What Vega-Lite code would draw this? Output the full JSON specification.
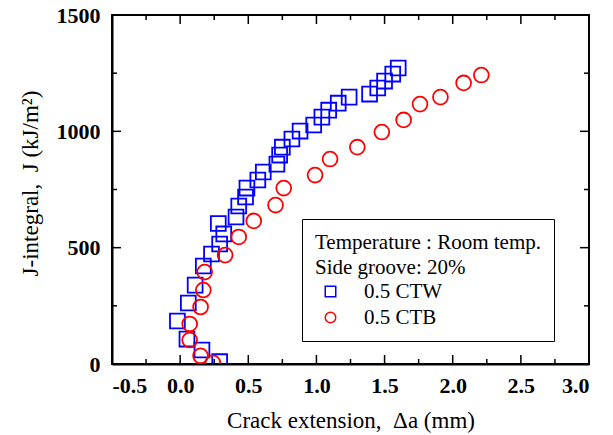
{
  "$schema": "https://vega.github.io/schema/vega-lite/v6.json",
  "width": 477,
  "height": 349,
  "autosize": {"type": "none"},
  "padding": {"left": 112, "top": 15, "right": 24, "bottom": 71},
  "config": {
    "font": "Liberation Serif",
    "view": {"stroke": "black", "strokeWidth": 2},
    "axis": {"domainColor": "black", "domainWidth": 2, "grid": false}
  },
  "datasets": {
    "pts": [
      {"specimen": "0.5 CTW", "da": 0.29, "J": 10},
      {"specimen": "0.5 CTW", "da": 0.16, "J": 60},
      {"specimen": "0.5 CTW", "da": 0.05, "J": 107},
      {"specimen": "0.5 CTW", "da": -0.02, "J": 185},
      {"specimen": "0.5 CTW", "da": 0.06, "J": 262},
      {"specimen": "0.5 CTW", "da": 0.11, "J": 339},
      {"specimen": "0.5 CTW", "da": 0.17, "J": 421},
      {"specimen": "0.5 CTW", "da": 0.23, "J": 473},
      {"specimen": "0.5 CTW", "da": 0.29, "J": 516},
      {"specimen": "0.5 CTW", "da": 0.32, "J": 559},
      {"specimen": "0.5 CTW", "da": 0.28, "J": 604},
      {"specimen": "0.5 CTW", "da": 0.41, "J": 632},
      {"specimen": "0.5 CTW", "da": 0.43, "J": 679},
      {"specimen": "0.5 CTW", "da": 0.48, "J": 718},
      {"specimen": "0.5 CTW", "da": 0.49, "J": 756},
      {"specimen": "0.5 CTW", "da": 0.57, "J": 791},
      {"specimen": "0.5 CTW", "da": 0.61, "J": 825},
      {"specimen": "0.5 CTW", "da": 0.71, "J": 859},
      {"specimen": "0.5 CTW", "da": 0.73, "J": 898},
      {"specimen": "0.5 CTW", "da": 0.75, "J": 932},
      {"specimen": "0.5 CTW", "da": 0.82, "J": 967},
      {"specimen": "0.5 CTW", "da": 0.88, "J": 1001},
      {"specimen": "0.5 CTW", "da": 0.98, "J": 1027},
      {"specimen": "0.5 CTW", "da": 1.04, "J": 1061},
      {"specimen": "0.5 CTW", "da": 1.09, "J": 1091},
      {"specimen": "0.5 CTW", "da": 1.16, "J": 1121},
      {"specimen": "0.5 CTW", "da": 1.24, "J": 1147},
      {"specimen": "0.5 CTW", "da": 1.39, "J": 1160},
      {"specimen": "0.5 CTW", "da": 1.45, "J": 1186},
      {"specimen": "0.5 CTW", "da": 1.50, "J": 1216},
      {"specimen": "0.5 CTW", "da": 1.56, "J": 1246},
      {"specimen": "0.5 CTW", "da": 1.60, "J": 1272},
      {"specimen": "0.5 CTB", "da": 0.24, "J": 5},
      {"specimen": "0.5 CTB", "da": 0.15, "J": 35},
      {"specimen": "0.5 CTB", "da": 0.07, "J": 103},
      {"specimen": "0.5 CTB", "da": 0.07, "J": 172},
      {"specimen": "0.5 CTB", "da": 0.15, "J": 245},
      {"specimen": "0.5 CTB", "da": 0.17, "J": 318},
      {"specimen": "0.5 CTB", "da": 0.18, "J": 395},
      {"specimen": "0.5 CTB", "da": 0.33, "J": 468},
      {"specimen": "0.5 CTB", "da": 0.43, "J": 546},
      {"specimen": "0.5 CTB", "da": 0.54, "J": 615},
      {"specimen": "0.5 CTB", "da": 0.70, "J": 683},
      {"specimen": "0.5 CTB", "da": 0.76, "J": 756},
      {"specimen": "0.5 CTB", "da": 0.99, "J": 812},
      {"specimen": "0.5 CTB", "da": 1.10, "J": 881},
      {"specimen": "0.5 CTB", "da": 1.30, "J": 932},
      {"specimen": "0.5 CTB", "da": 1.48, "J": 997},
      {"specimen": "0.5 CTB", "da": 1.64, "J": 1049},
      {"specimen": "0.5 CTB", "da": 1.76, "J": 1117},
      {"specimen": "0.5 CTB", "da": 1.91, "J": 1147},
      {"specimen": "0.5 CTB", "da": 2.08, "J": 1208},
      {"specimen": "0.5 CTB", "da": 2.21, "J": 1242}
    ],
    "xmajor": [{"v": -0.5}, {"v": 0}, {"v": 0.5}, {"v": 1}, {"v": 1.5}, {"v": 2}, {"v": 2.5}, {"v": 3}],
    "xminor": [{"v": -0.25}, {"v": 0.25}, {"v": 0.75}, {"v": 1.25}, {"v": 1.75}, {"v": 2.25}, {"v": 2.75}],
    "ymajor": [{"v": 0}, {"v": 500}, {"v": 1000}, {"v": 1500}],
    "yminor": [{"v": 250}, {"v": 750}, {"v": 1250}]
  },
  "layer": [
    {
      "mark": {"type": "rect", "color": "black"},
      "encoding": {
        "x": {"datum": 0.93, "type": "quantitative", "scale": {"domain": [-0.5, 3], "nice": false}, "axis": null},
        "x2": {"datum": 2.86},
        "y": {"datum": 602, "type": "quantitative", "scale": {"domain": [0, 1500], "nice": false}, "axis": null},
        "y2": {"datum": 95}
      }
    },
    {
      "data": {"name": "pts"},
      "mark": {"type": "point", "filled": false, "strokeWidth": 1.8, "size": 220, "opacity": 1, "clip": true},
      "encoding": {
        "x": {
          "field": "da", "type": "quantitative",
          "scale": {"domain": [-0.5, 3], "nice": false},
          "axis": {
            "orient": "bottom",
            "title": "Crack extension,\u00a0\u00a0Δa (mm)",
            "titleFont": "Liberation Serif", "titleFontSize": 23, "titleFontWeight": "normal", "titleColor": "black",
            "titlePadding": 13,
            "values": [-0.5, 0, 0.5, 1, 1.5, 2, 2.5, 3],
            "labelExpr": "(datum.value < 0 ? '-' : '') + format(abs(datum.value), '.1f')",
            "labelFont": "Liberation Serif", "labelFontSize": 22, "labelFontWeight": "bold", "labelColor": "black",
            "labelPadding": 11,
            "ticks": false
          }
        },
        "y": {
          "field": "J", "type": "quantitative",
          "scale": {"domain": [0, 1500], "nice": false},
          "axis": {
            "orient": "left",
            "title": "J-integral,\u00a0\u00a0J (kJ/m²)",
            "titleFont": "Liberation Serif", "titleFontSize": 23, "titleFontWeight": "normal", "titleColor": "black",
            "titlePadding": 14, "titleY": 168,
            "values": [0, 500, 1000, 1500],
            "labelExpr": "format(datum.value, 'd')",
            "labelFont": "Liberation Serif", "labelFontSize": 22, "labelFontWeight": "bold", "labelColor": "black",
            "labelPadding": 12,
            "ticks": false
          }
        },
        "shape": {
          "field": "specimen", "type": "nominal",
          "scale": {"domain": ["0.5 CTW", "0.5 CTB"], "range": ["square", "circle"]},
          "legend": {
            "title": ["Temperature : Room temp.\u00a0\u00a0\u00a0\u00a0\u00a0", "Side groove: 20%"],
            "orient": "none", "legendX": 190, "legendY": 204,
            "titleFont": "Liberation Serif", "titleFontSize": 21, "titleFontWeight": "normal", "titleColor": "black",
            "titleLineHeight": 25, "titlePadding": 3, "titleLimit": 500,
            "labelFont": "Liberation Serif", "labelFontSize": 21, "labelColor": "black",
            "labelOffset": 23, "symbolOffset": 5,
            "symbolSize": 110, "symbolStrokeWidth": 1.5,
            "rowPadding": 4,
            "padding": 13,
            "fillColor": "white", "strokeColor": "black"
          }
        },
        "color": {
          "field": "specimen", "type": "nominal",
          "scale": {"domain": ["0.5 CTW", "0.5 CTB"], "range": ["#0000ff", "#ff0000"]},
          "legend": {
            "title": ["Temperature : Room temp.\u00a0\u00a0\u00a0\u00a0\u00a0", "Side groove: 20%"],
            "orient": "none", "legendX": 190, "legendY": 204
          }
        }
      }
    },
    {
      "data": {"name": "xmajor"},
      "mark": {"type": "rule", "color": "black", "strokeWidth": 1.5, "y2Offset": -9},
      "encoding": {
        "x": {"field": "v", "type": "quantitative", "scale": {"domain": [-0.5, 3], "nice": false}, "axis": null},
        "y": {"datum": 0, "type": "quantitative", "scale": {"domain": [0, 1500], "nice": false}, "axis": null},
        "y2": {"datum": 0}
      }
    },
    {
      "data": {"name": "xminor"},
      "mark": {"type": "rule", "color": "black", "strokeWidth": 1.5, "y2Offset": -5},
      "encoding": {
        "x": {"field": "v", "type": "quantitative", "scale": {"domain": [-0.5, 3], "nice": false}, "axis": null},
        "y": {"datum": 0, "type": "quantitative", "scale": {"domain": [0, 1500], "nice": false}, "axis": null},
        "y2": {"datum": 0}
      }
    },
    {
      "data": {"name": "xmajor"},
      "mark": {"type": "rule", "color": "black", "strokeWidth": 1.5, "y2Offset": 9},
      "encoding": {
        "x": {"field": "v", "type": "quantitative", "scale": {"domain": [-0.5, 3], "nice": false}, "axis": null},
        "y": {"datum": 1500, "type": "quantitative", "scale": {"domain": [0, 1500], "nice": false}, "axis": null},
        "y2": {"datum": 1500}
      }
    },
    {
      "data": {"name": "xminor"},
      "mark": {"type": "rule", "color": "black", "strokeWidth": 1.5, "y2Offset": 5},
      "encoding": {
        "x": {"field": "v", "type": "quantitative", "scale": {"domain": [-0.5, 3], "nice": false}, "axis": null},
        "y": {"datum": 1500, "type": "quantitative", "scale": {"domain": [0, 1500], "nice": false}, "axis": null},
        "y2": {"datum": 1500}
      }
    },
    {
      "data": {"name": "ymajor"},
      "mark": {"type": "rule", "color": "black", "strokeWidth": 1.5, "x2Offset": 9},
      "encoding": {
        "y": {"field": "v", "type": "quantitative", "scale": {"domain": [0, 1500], "nice": false}, "axis": null},
        "x": {"datum": -0.5, "type": "quantitative", "scale": {"domain": [-0.5, 3], "nice": false}, "axis": null},
        "x2": {"datum": -0.5}
      }
    },
    {
      "data": {"name": "yminor"},
      "mark": {"type": "rule", "color": "black", "strokeWidth": 1.5, "x2Offset": 5},
      "encoding": {
        "y": {"field": "v", "type": "quantitative", "scale": {"domain": [0, 1500], "nice": false}, "axis": null},
        "x": {"datum": -0.5, "type": "quantitative", "scale": {"domain": [-0.5, 3], "nice": false}, "axis": null},
        "x2": {"datum": -0.5}
      }
    },
    {
      "data": {"name": "ymajor"},
      "mark": {"type": "rule", "color": "black", "strokeWidth": 1.5, "x2Offset": -9},
      "encoding": {
        "y": {"field": "v", "type": "quantitative", "scale": {"domain": [0, 1500], "nice": false}, "axis": null},
        "x": {"datum": 3, "type": "quantitative", "scale": {"domain": [-0.5, 3], "nice": false}, "axis": null},
        "x2": {"datum": 3}
      }
    },
    {
      "data": {"name": "yminor"},
      "mark": {"type": "rule", "color": "black", "strokeWidth": 1.5, "x2Offset": -5},
      "encoding": {
        "y": {"field": "v", "type": "quantitative", "scale": {"domain": [0, 1500], "nice": false}, "axis": null},
        "x": {"datum": 3, "type": "quantitative", "scale": {"domain": [-0.5, 3], "nice": false}, "axis": null},
        "x2": {"datum": 3}
      }
    }
  ],
  "resolve": {"scale": {"x": "independent", "y": "independent"}}
}
